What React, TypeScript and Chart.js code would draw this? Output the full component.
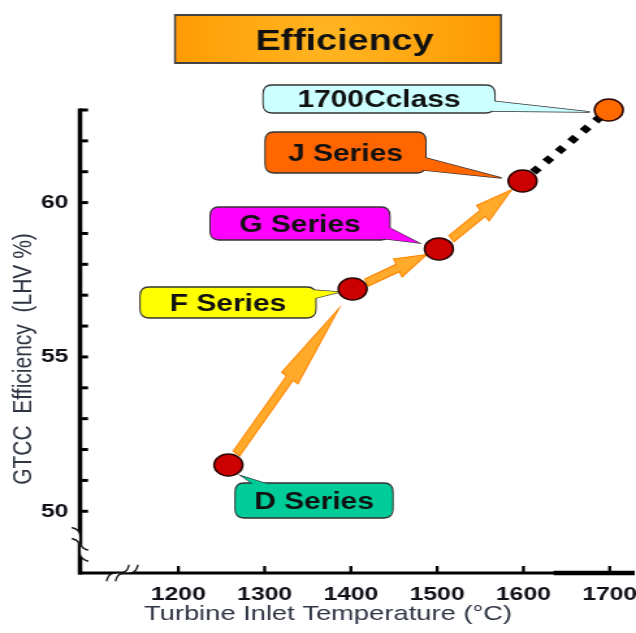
import React, { useEffect, useRef } from 'react';
import { Chart, registerables } from 'chart.js';

Chart.register(...registerables);

// ---- data ----
const SERIES_NAMES = ['D Series', 'F Series', 'G Series', 'J Series', '1700Cclass'];
const INLET_TEMP = [1258, 1402, 1502, 1599, 1699]; // °C
const GTCC_EFF = [51.5, 57.2, 58.5, 60.7, 63.0]; // LHV %
const X_TICKS = [1200, 1300, 1400, 1500, 1600, 1700];
const Y_TICKS = [50, 55, 60];
const Y_MINOR = [50, 51, 52, 53, 54, 55, 56, 57, 58, 59, 60, 61, 62, 63];

// ---- layout ----
const OUT_W = 636;
const OUT_H = 633;
const W = 489; // drawing width, shown stretched to OUT_W
const S = OUT_W / W;
const X_MIN = 1086;
const X_MAX = 1729;
const Y_MIN = 48;
const Y_MAX = 63;
const FONT = '"Liberation Sans", Arial, Helvetica, sans-serif';

const POINT_FILL = ['#cc0000', '#cc0000', '#cc0000', '#cc0000', '#ff6a00'];

// callout boxes (output pixel space), one per series
const CALLOUTS = [
  { box: [235, 483, 393, 518], fill: '#00cc99', base: [[256, 486], [274, 486]], tip: [13, 11] },
  { box: [140, 287, 316, 318], fill: '#ffff00', base: [[312, 290], [312, 299]], tip: [-13, 3] },
  { box: [210, 207, 390, 240], fill: '#ff00ff', base: [[386, 226], [378, 238]], tip: [-20, -6] },
  { box: [265, 132, 426, 173], fill: '#ff6600', base: [[422, 157], [422, 170]], tip: [-21, -3] },
  { box: [263, 85, 495, 113], fill: '#ccffff', base: [[491, 101], [491, 111]], tip: [-19, 2] },
];

// arrows between consecutive generations: [from, to, startFrac, endFrac]
const ARROWS: [number, number, number, number][] = [
  [0, 1, 0.065, 0.89],
  [1, 2, 0.16, 0.86],
  [2, 3, 0.15, 0.87],
];

function roundRect(ctx: CanvasRenderingContext2D, x0: number, y0: number, x1: number, y1: number, r: number) {
  ctx.beginPath();
  ctx.moveTo(x0 + r, y0);
  ctx.lineTo(x1 - r, y0);
  ctx.quadraticCurveTo(x1, y0, x1, y0 + r);
  ctx.lineTo(x1, y1 - r);
  ctx.quadraticCurveTo(x1, y1, x1 - r, y1);
  ctx.lineTo(x0 + r, y1);
  ctx.quadraticCurveTo(x0, y1, x0, y1 - r);
  ctx.lineTo(x0, y0 + r);
  ctx.quadraticCurveTo(x0, y0, x0 + r, y0);
  ctx.closePath();
}

function blockArrow(ctx: CanvasRenderingContext2D, x0: number, y0: number, x1: number, y1: number) {
  const dx = x1 - x0;
  const dy = y1 - y0;
  const L = Math.hypot(dx, dy);
  const ux = dx / L;
  const uy = dy / L;
  const nx = -uy;
  const ny = ux;
  const sh = 4;
  const hh = 10;
  const hl = L * 0.48;
  const bx = x1 - ux * hl;
  const by = y1 - uy * hl;
  ctx.beginPath();
  ctx.moveTo(x0 + nx * sh, y0 + ny * sh);
  ctx.lineTo(bx + nx * sh, by + ny * sh);
  ctx.lineTo(bx + nx * hh, by + ny * hh);
  ctx.lineTo(x1, y1);
  ctx.lineTo(bx - nx * hh, by - ny * hh);
  ctx.lineTo(bx - nx * sh, by - ny * sh);
  ctx.lineTo(x0 - nx * sh, y0 - ny * sh);
  ctx.closePath();
  ctx.fillStyle = '#ffaa2a';
  ctx.fill();
  ctx.strokeStyle = '#ff8400';
  ctx.lineWidth = 1.2;
  ctx.stroke();
}

// wavy axis-break mark: two parallel tildes with a white gap between
function breakMark(ctx: CanvasRenderingContext2D, cx: number, cy: number, ang: number, ox: number, oy: number) {
  const curve = (sx: number, sy: number) => {
    const pts: [number, number][] = [];
    for (let i = 0; i <= 24; i++) {
      const u = -14 + (28 * i) / 24;
      const w = 3.2 * Math.sin((Math.PI * u) / 14);
      const px = u * Math.cos(ang) - w * Math.sin(ang);
      const py = u * Math.sin(ang) + w * Math.cos(ang);
      pts.push([cx + sx + px, cy + sy + py]);
    }
    return pts;
  };
  const a = curve(-ox, -oy);
  const b = curve(ox, oy);
  ctx.beginPath();
  a.forEach(([x, y], i) => (i ? ctx.lineTo(x, y) : ctx.moveTo(x, y)));
  [...b].reverse().forEach(([x, y]) => ctx.lineTo(x, y));
  ctx.closePath();
  ctx.fillStyle = '#ffffff';
  ctx.fill();
  ctx.strokeStyle = '#111';
  ctx.lineWidth = 1.6;
  for (const c of [a, b]) {
    ctx.beginPath();
    c.forEach(([x, y], i) => (i ? ctx.lineTo(x, y) : ctx.moveTo(x, y)));
    ctx.stroke();
  }
}

const decorations = {
  id: 'decorations',
  beforeDatasetsDraw(chart: any) {
    const ctx: CanvasRenderingContext2D = chart.ctx;
    const xs = chart.scales.x;
    const ys = chart.scales.y;
    const X = (v: number) => xs.getPixelForValue(v) * S;
    const Y = (v: number) => ys.getPixelForValue(v);

    ctx.save();
    ctx.scale(1 / S, 1);

    // axes
    const ax = X(X_MIN);
    const ay = Y(Y_MIN);
    ctx.strokeStyle = '#000';
    ctx.lineCap = 'butt';
    ctx.lineWidth = 4.5;
    ctx.beginPath();
    ctx.moveTo(ax, Y(Y_MAX) - 1.5);
    ctx.lineTo(ax, ay + 1.5);
    ctx.stroke();
    ctx.lineWidth = 3;
    ctx.beginPath();
    ctx.moveTo(ax - 2, ay);
    ctx.lineTo(X(X_MAX), ay);
    ctx.stroke();
    ctx.lineWidth = 4.5;
    ctx.beginPath();
    ctx.moveTo(X(1635), ay);
    ctx.lineTo(X(X_MAX), ay);
    ctx.stroke();

    // tick marks, drawn inward
    ctx.lineWidth = 3;
    for (const v of Y_MINOR) {
      const y = Y(v);
      ctx.beginPath();
      ctx.moveTo(ax, y);
      ctx.lineTo(ax + 8, y);
      ctx.stroke();
    }
    for (const v of X_TICKS) {
      const x = X(v);
      ctx.beginPath();
      ctx.moveTo(x, ay);
      ctx.lineTo(x, ay - 7);
      ctx.stroke();
    }

    // axis breaks
    breakMark(ctx, ax, Y(48.93), Math.PI * 0.3, 0, 5.5);
    breakMark(ctx, X(1135), ay, -Math.PI * 0.2, 4.5, 0);

    // progression arrows
    for (const [i, j, t0, t1] of ARROWS) {
      const x0 = X(INLET_TEMP[i]);
      const y0 = Y(GTCC_EFF[i]);
      const x1 = X(INLET_TEMP[j]);
      const y1 = Y(GTCC_EFF[j]);
      blockArrow(
        ctx,
        x0 + (x1 - x0) * t0,
        y0 + (y1 - y0) * t0,
        x0 + (x1 - x0) * t1,
        y0 + (y1 - y0) * t1,
      );
    }

    // callout bubbles
    CALLOUTS.forEach((c, k) => {
      const tx = X(INLET_TEMP[k]) + c.tip[0];
      const ty = Y(GTCC_EFF[k]) + c.tip[1];
      const [x0, y0, x1, y1] = c.box;
      const tail = () => {
        ctx.beginPath();
        ctx.moveTo(c.base[0][0], c.base[0][1]);
        ctx.lineTo(tx, ty);
        ctx.lineTo(c.base[1][0], c.base[1][1]);
        ctx.closePath();
      };
      ctx.fillStyle = c.fill;
      ctx.strokeStyle = '#333';
      ctx.lineWidth = 1.3;
      tail();
      ctx.fill();
      ctx.stroke();
      roundRect(ctx, x0, y0, x1, y1, 9);
      ctx.fill();
      ctx.stroke();
      tail();
      ctx.fill();
    });

    ctx.restore();

    // callout texts (drawn in stretched space)
    ctx.save();
    ctx.fillStyle = '#111';
    ctx.textAlign = 'center';
    ctx.textBaseline = 'alphabetic';
    ctx.font = `bold 23px ${FONT}`;
    CALLOUTS.forEach((c, k) => {
      const [x0, y0, x1, y1] = c.box;
      ctx.fillText(SERIES_NAMES[k], (x0 + x1) / 2 / S, (y0 + y1) / 2 + 8);
    });
    ctx.restore();
  },
  afterDraw(chart: any) {
    const ctx: CanvasRenderingContext2D = chart.ctx;
    // heading plate
    ctx.save();
    ctx.scale(1 / S, 1);
    const g = ctx.createRadialGradient(330, 38, 10, 330, 38, 180);
    g.addColorStop(0, '#ffb420');
    g.addColorStop(1, '#ff9800');
    ctx.fillStyle = g;
    ctx.fillRect(175, 15, 326, 48);
    ctx.strokeStyle = '#444';
    ctx.lineWidth = 2;
    ctx.strokeRect(175, 15, 326, 48);
    ctx.restore();

    ctx.save();
    ctx.fillStyle = '#111';
    ctx.textAlign = 'center';
    ctx.textBaseline = 'alphabetic';
    ctx.font = `bold 29px ${FONT}`;
    ctx.fillText('Efficiency', 344.5 / S, 50);

    // axis titles
    ctx.fillStyle = '#2e3443';
    ctx.font = `21px ${FONT}`;
    ctx.fillText('Turbine Inlet Temperature (°C)', 328 / S, 620);
    ctx.translate(31 / S, 359);
    ctx.rotate(-Math.PI / 2);
    ctx.fillText('GTCC  Efficiency  (LHV %)', 0, 0);
    ctx.restore();
  },
};

export default function App() {
  const ref = useRef<HTMLCanvasElement>(null);

  useEffect(() => {
    const canvas = ref.current;
    if (!canvas) return;
    const points = INLET_TEMP.map((t, i) => ({ x: t, y: GTCC_EFF[i] }));
    const chart = new Chart(canvas, {
      type: 'scatter',
      data: {
        datasets: [
          {
            label: 'GTCC efficiency',
            data: points,
            pointRadius: 11,
            pointHoverRadius: 11,
            pointBackgroundColor: POINT_FILL,
            pointBorderColor: '#2a0500',
            pointBorderWidth: 1.5,
            showLine: false,
            clip: false,
            order: 0,
          },
          {
            label: 'projection',
            data: points.slice(3),
            showLine: true,
            borderColor: '#000',
            borderWidth: 7,
            borderDash: [6, 8],
            borderDashOffset: 2,
            pointRadius: 0,
            clip: false,
            order: 1,
          },
        ],
      },
      options: {
        responsive: false,
        devicePixelRatio: 1,
        animation: false,
        events: [],
        layout: { autoPadding: false, padding: { top: 110, right: 1, left: 0, bottom: 0 } },
        plugins: {
          legend: { display: false },
          tooltip: { enabled: false },
          title: { display: false },
        },
        scales: {
          x: {
            type: 'linear',
            min: X_MIN,
            max: X_MAX,
            grid: { display: false, drawTicks: false },
            border: { display: false },
            ticks: {
              color: '#101018',
              font: { family: FONT, size: 19, weight: 'bold' },
              padding: 10,
              maxRotation: 0,
              autoSkip: false,
              callback: (v: any) => String(v),
            },
            afterBuildTicks: (s: any) => {
              s.ticks = X_TICKS.map((v) => ({ value: v }));
            },
            afterFit: (s: any) => {
              s.height = 60;
              s.paddingLeft = 0;
              s.paddingRight = 0;
            },
          },
          y: {
            type: 'linear',
            min: Y_MIN,
            max: Y_MAX,
            grid: { display: false, drawTicks: false },
            border: { display: false },
            ticks: {
              color: '#101018',
              font: { family: FONT, size: 19, weight: 'bold' },
              padding: 9,
              callback: (v: any) => String(v),
            },
            afterBuildTicks: (s: any) => {
              s.ticks = Y_TICKS.map((v) => ({ value: v }));
            },
            afterFit: (s: any) => {
              s.width = 80 / S;
              s.paddingTop = 0;
              s.paddingBottom = 0;
            },
          },
        },
      },
      plugins: [decorations],
    });
    return () => chart.destroy();
  }, []);

  return (
    <div
      style={{
        position: 'fixed',
        left: 0,
        top: 0,
        width: OUT_W,
        height: OUT_H,
        overflow: 'hidden',
        background: '#fff',
      }}
    >
      <div style={{ width: W, height: OUT_H, transform: `scaleX(${S})`, transformOrigin: '0 0' }}>
        <canvas ref={ref} width={W} height={OUT_H} />
      </div>
    </div>
  );
}
